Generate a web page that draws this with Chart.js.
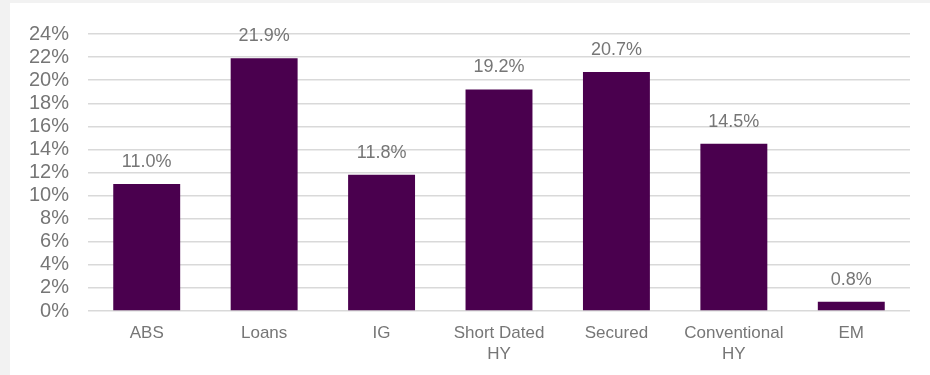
<!DOCTYPE html>
<html>
<head>
<meta charset="utf-8">
<script src="https://cdn.jsdelivr.net/npm/chart.js@4"></script>
<style>
  html, body { margin: 0; padding: 0; background: #f2f2f2; }
  #panel {
    position: absolute; left: 10px; top: 3px;
    width: 920px; height: 372px; background: #fff;
  }
</style>
</head>
<body>
<div id="panel"><canvas id="allocChart" width="920" height="372"></canvas></div>
<script>
// ── DATA ──────────────────────────────────────────────────────────────────
const categories = ['ABS', 'Loans', 'IG', ['Short Dated', 'HY'], 'Secured', ['Conventional', 'HY'], 'EM'];
const shares     = [11.0, 21.9, 11.8, 19.2, 20.7, 14.5, 0.8];
const yTicks     = [0, 2, 4, 6, 8, 10, 12, 14, 16, 18, 20, 22, 24];

const FONT   = 'Liberation Sans, Arial, sans-serif';
const GREY   = '#767676';
const PURPLE = '#4a004e';

// value labels above each bar
const barLabels = {
  id: 'barLabels',
  afterDatasetsDraw(chart) {
    const ctx = chart.ctx;
    const meta = chart.getDatasetMeta(0);
    ctx.save();
    ctx.font = '18px ' + FONT;
    ctx.fillStyle = GREY;
    ctx.textAlign = 'center';
    ctx.textBaseline = 'bottom';
    meta.data.forEach(function(bar, i) {
      ctx.fillText(shares[i].toFixed(1) + '%', bar.x, bar.y - 13);
    });
    ctx.restore();
  }
};

new Chart(document.getElementById('allocChart'), {
  type: 'bar',
  data: {
    labels: categories,
    datasets: [{
      data:               shares,
      backgroundColor:    PURPLE,
      categoryPercentage: 1,
      barPercentage:      .57
    }]
  },
  options: {
    responsive: false,
    animation:  false,
    layout: { padding: { top: 29, right: 20, bottom: 0, left: 0 } },
    plugins: {
      legend:  { display: false },
      tooltip: { enabled: false }
    },
    scales: {
      x: {
        grid:   { display: false },
        border: { display: false },
        ticks:  {
          font: { family: FONT, size: 17, lineHeight: 1.22 }, color: GREY,
          padding: 4, maxRotation: 0, autoSkip: false
        },
        afterFit: function(s) { s.height = 64; }
      },
      y: {
        min: 0,
        max: 24,
        afterBuildTicks: function(s) { s.ticks = yTicks.map(v => ({ value: v })); },
        grid:   { color: '#d9d9d9', lineWidth: 1.5, drawTicks: false },
        border: { display: false },
        ticks:  {
          font: { family: FONT, size: 20 }, color: GREY, padding: 19, autoSkip: false,
          callback: function(v) { return v + '%'; }
        },
        afterFit: function(s) { s.width = 78; }
      }
    }
  },
  plugins: [barLabels]
});
</script>
</body>
</html>
